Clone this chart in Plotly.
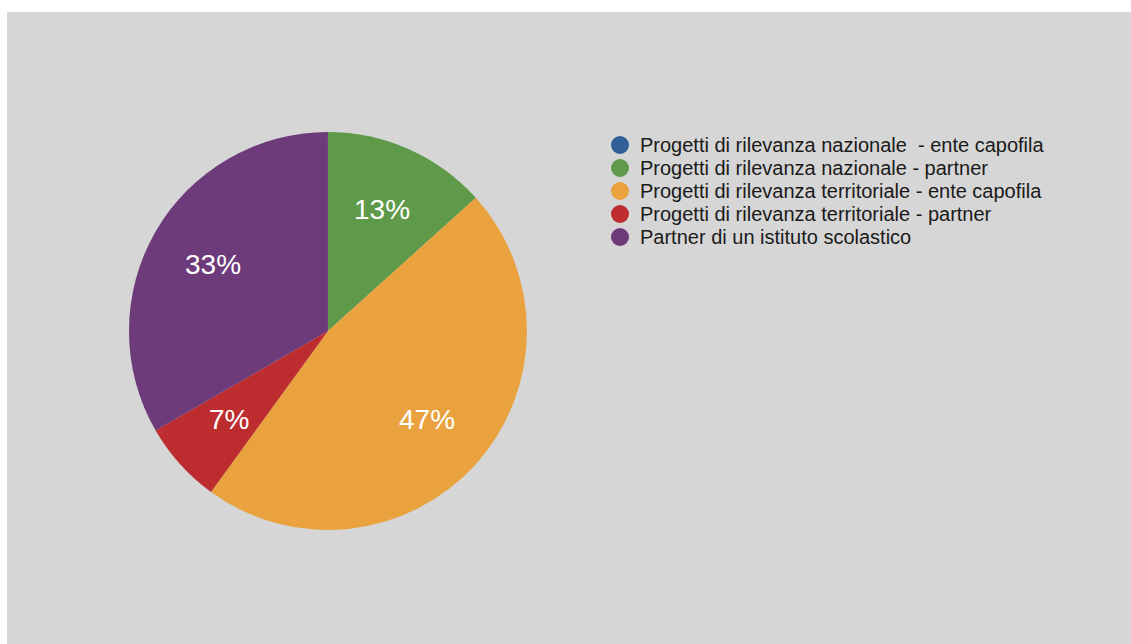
import math
import plotly.graph_objects as go

# Category labels, slice counts and colours
categories = [
    "Progetti di rilevanza nazionale  - ente capofila",
    "Progetti di rilevanza nazionale - partner",
    "Progetti di rilevanza territoriale - ente capofila",
    "Progetti di rilevanza territoriale - partner",
    "Partner di un istituto scolastico",
]
counts = [0, 2, 7, 1, 5]
colors = ["#305e96", "#5e9a4a", "#e9a23d", "#bd2d30", "#6d3b79"]

W, H = 1131, 644
MARGIN = dict(l=7, r=0, t=12, b=0)
plot_w = W - MARGIN["l"] - MARGIN["r"]
plot_h = H - MARGIN["t"] - MARGIN["b"]

pie_dom_x = [0.1085, 0.4626]
pie_dom_y = [0.1804, 0.8101]
FONT = "Liberation Sans, Arial, Helvetica, sans-serif"

fig = go.Figure()

fig.add_trace(go.Pie(
    labels=categories,
    values=counts,
    marker=dict(colors=colors, line=dict(width=0)),
    sort=False,
    direction="clockwise",
    rotation=0,
    textinfo="none",
    showlegend=False,
    domain=dict(x=pie_dom_x, y=pie_dom_y),
    hoverinfo="label+percent",
))

# Percentage labels placed at two thirds of the radius, on each slice's mid-angle
total = sum(counts)
cx = sum(pie_dom_x) / 2
cy = sum(pie_dom_y) / 2
r_px = min((pie_dom_x[1] - pie_dom_x[0]) * plot_w, (pie_dom_y[1] - pie_dom_y[0]) * plot_h) / 2
annotations = []
cum = 0
for v in counts:
    if v > 0:
        mid = math.radians((cum + v / 2) / total * 360)
        d = r_px * 2 / 3
        annotations.append(dict(
            x=cx + d * math.sin(mid) / plot_w,
            y=cy + d * math.cos(mid) / plot_h,
            xref="paper", yref="paper", showarrow=False,
            xanchor="center", yanchor="middle",
            text=f"{round(v / total * 100)}%",
            font=dict(size=28, color="white", family=FONT),
        ))
    cum += v

# Legend: round swatches with labels
shapes = [dict(type="rect", xref="paper", yref="paper", x0=0, x1=1, y0=0, y1=1,
               fillcolor="#d6d6d6", line=dict(width=0), layer="below")]
leg_x = (620 - MARGIN["l"]) / plot_w
leg_top = 1 - (145 - MARGIN["t"]) / plot_h
row_step = 23 / plot_h
for i, (name, col) in enumerate(zip(categories, colors)):
    y = leg_top - i * row_step
    shapes.append(dict(
        type="circle", xref="paper", yref="paper",
        xsizemode="pixel", ysizemode="pixel",
        xanchor=leg_x, yanchor=y, x0=-9, x1=9, y0=-9, y1=9,
        fillcolor=col, line=dict(width=0),
    ))
    annotations.append(dict(
        x=leg_x + 18 / plot_w, y=y, xref="paper", yref="paper",
        xanchor="left", yanchor="middle", showarrow=False,
        text=name.replace("  ", "\u00a0 "),
        font=dict(size=20, color="#1a1a1a", family=FONT),
    ))

fig.update_layout(
    width=W, height=H,
    paper_bgcolor="white",
    margin=MARGIN,
    showlegend=False,
    shapes=shapes,
    annotations=annotations,
)

fig.write_html("out.html")
